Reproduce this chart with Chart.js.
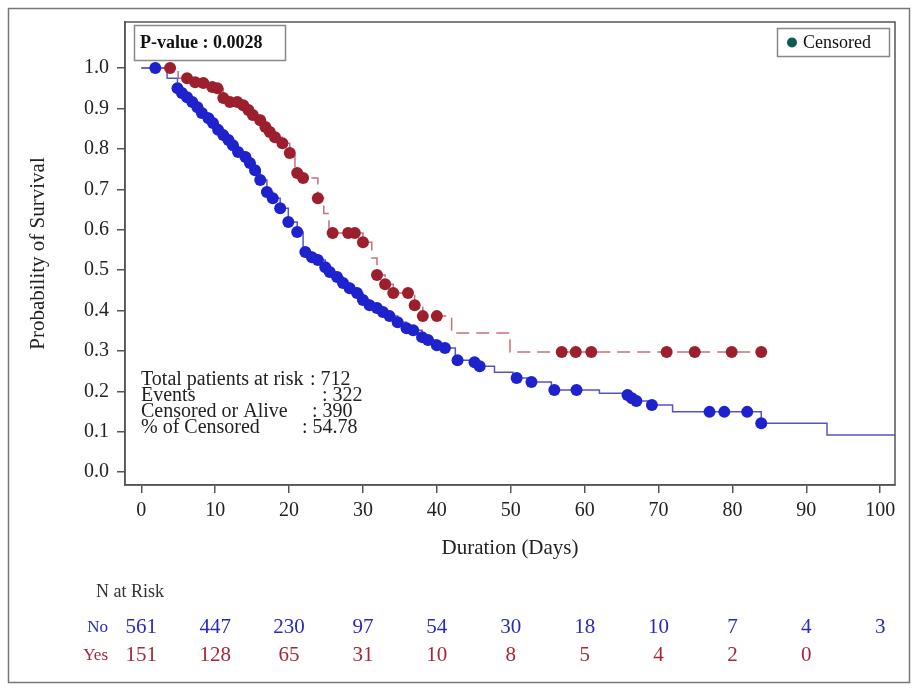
<!DOCTYPE html>
<html>
<head>
<meta charset="utf-8">
<script src="https://cdn.jsdelivr.net/npm/chart.js@4"></script>
<style>
  body { margin: 0; background: #fff; }
  canvas { display: block; }
</style>
</head>
<body>
<canvas id="kmChart" width="916" height="690"></canvas>
<script>
// Kaplan-Meier step nodes (days, survival)
const noCurveDays = [0, 3.5, 4.9, 5.5, 6.2, 6.9, 7.6, 8.2, 9.1, 9.7, 10.4, 11.1, 11.8, 12.4, 13.1, 14.1, 14.7, 15.4, 16.1, 17.0, 17.8, 18.8, 19.9, 21.1, 21.9, 23.1, 23.9, 24.9, 25.5, 26.5, 27.3, 28.2, 29.2, 30.0, 30.9, 31.9, 32.7, 33.6, 34.7, 35.9, 36.8, 38.0, 38.8, 40.0, 41.1, 42.5, 45.1, 45.8, 47.8, 50.3, 52.8, 55.5, 62.0, 65.8, 66.4, 67.0, 69.1, 71.9, 83.9, 92.8, 102];
const noCurveSurv = [1.0, 0.975, 0.950, 0.938, 0.928, 0.916, 0.903, 0.889, 0.876, 0.864, 0.847, 0.834, 0.822, 0.809, 0.792, 0.780, 0.765, 0.747, 0.723, 0.693, 0.678, 0.653, 0.619, 0.594, 0.545, 0.532, 0.525, 0.507, 0.495, 0.483, 0.468, 0.455, 0.443, 0.426, 0.413, 0.406, 0.396, 0.386, 0.371, 0.356, 0.351, 0.334, 0.327, 0.314, 0.307, 0.277, 0.272, 0.262, 0.247, 0.233, 0.223, 0.203, 0.195, 0.191, 0.183, 0.176, 0.166, 0.149, 0.121, 0.092, 0.092];

const yesCurveDays = [0, 5.0, 7.3, 8.4, 9.6, 10.3, 11.1, 12.0, 13.8, 14.5, 15.1, 16.1, 16.8, 17.4, 18.1, 19.1, 20.1, 20.8, 21.9, 23.9, 24.7, 25.4, 30.0, 31.2, 31.9, 33.0, 34.1, 37.0, 38.1, 42.0, 49.9, 83.9];
const yesCurveSurv = [1.0, 0.975, 0.965, 0.963, 0.953, 0.950, 0.926, 0.916, 0.908, 0.896, 0.884, 0.871, 0.854, 0.842, 0.829, 0.814, 0.790, 0.740, 0.728, 0.678, 0.640, 0.592, 0.569, 0.530, 0.488, 0.465, 0.443, 0.413, 0.386, 0.344, 0.297, 0.297];

// censored observations
const noCensDays = [1.9, 4.9, 5.5, 6.2, 6.9, 7.6, 8.2, 9.1, 9.7, 10.4, 11.1, 11.8, 12.4, 13.1, 14.1, 14.7, 15.4, 16.1, 17.0, 17.8, 18.8, 19.9, 21.1, 22.2, 23.1, 23.9, 24.9, 25.5, 26.5, 27.3, 28.2, 29.2, 30.0, 30.9, 31.9, 32.7, 33.6, 34.7, 35.9, 36.8, 38.0, 38.8, 40.0, 41.1, 42.8, 45.1, 45.8, 50.8, 52.8, 55.9, 58.9, 65.8, 66.4, 67.0, 69.1, 76.9, 78.9, 82.0, 83.9];
const noCensSurv = [1.0, 0.950, 0.938, 0.928, 0.916, 0.903, 0.889, 0.876, 0.864, 0.847, 0.834, 0.822, 0.809, 0.792, 0.780, 0.765, 0.747, 0.723, 0.693, 0.678, 0.653, 0.619, 0.594, 0.545, 0.532, 0.525, 0.507, 0.495, 0.483, 0.468, 0.455, 0.443, 0.426, 0.413, 0.406, 0.396, 0.386, 0.371, 0.356, 0.351, 0.334, 0.327, 0.314, 0.307, 0.277, 0.272, 0.262, 0.233, 0.223, 0.203, 0.203, 0.191, 0.183, 0.176, 0.166, 0.149, 0.149, 0.149, 0.121];

const yesCensDays = [3.9, 6.2, 7.3, 8.4, 9.6, 10.3, 11.1, 12.0, 13.0, 13.8, 14.5, 15.1, 16.1, 16.8, 17.4, 18.1, 19.1, 20.1, 21.1, 21.9, 23.9, 25.9, 28.0, 28.9, 30.0, 31.9, 33.0, 34.1, 36.1, 37.0, 38.1, 40.0, 56.9, 58.8, 60.9, 71.1, 74.9, 79.9, 83.9];
const yesCensSurv = [1.0, 0.975, 0.965, 0.963, 0.953, 0.950, 0.926, 0.916, 0.916, 0.908, 0.896, 0.884, 0.871, 0.854, 0.842, 0.829, 0.814, 0.790, 0.740, 0.728, 0.678, 0.592, 0.592, 0.592, 0.569, 0.488, 0.465, 0.443, 0.443, 0.413, 0.386, 0.386, 0.297, 0.297, 0.297, 0.297, 0.297, 0.297, 0.297];

// axis ticks
const xTicks = [0, 10, 20, 30, 40, 50, 60, 70, 80, 90, 100];
const yTicks = [0.0, 0.1, 0.2, 0.3, 0.4, 0.5, 0.6, 0.7, 0.8, 0.9, 1.0];

// number at risk table
const riskDays = [0, 10, 20, 30, 40, 50, 60, 70, 80, 90, 100];
const noAtRisk = [561, 447, 230, 97, 54, 30, 18, 10, 7, 4, 3];
const yesAtRisk = [151, 128, 65, 31, 10, 8, 5, 4, 2, 0];

// summary box
const summaryLabels = ['Total patients at risk', 'Events', 'Censored or Alive', '% of Censored'];
const summaryValues = ['712', '322', '390', '54.78'];
const pValue = '0.0028';

const serif = '"Liberation Serif", "Times New Roman", serif';
const noColor = '#2a2ab8';
const yesColor = '#a3283a';

const toPoints = (xs, ys) => xs.map((x, i) => ({ x: x, y: ys[i] }));

const decorations = {
    id: 'decorations',
    afterDraw(chart) {
        const ctx = chart.ctx;
        const area = chart.chartArea;
        const xs = chart.scales.x;
        ctx.save();

        // frame round the plot
        ctx.strokeStyle = '#555';
        ctx.lineWidth = 1.5;
        ctx.strokeRect(area.left, area.top, area.right - area.left, area.bottom - area.top);

        // outer border
        ctx.strokeStyle = '#777';
        ctx.strokeRect(8.5, 8.5, 901, 674);

        // p-value box
        ctx.strokeStyle = '#888';
        ctx.lineWidth = 1.5;
        ctx.strokeRect(134.5, 25.5, 151, 35);
        ctx.fillStyle = '#111';
        ctx.font = 'bold 18px ' + serif;
        ctx.textBaseline = 'middle';
        ctx.textAlign = 'left';
        ctx.fillText('P-value : ' + pValue, 140, 43);

        // legend
        ctx.strokeRect(777.5, 28.5, 112, 28);
        ctx.beginPath();
        ctx.arc(792, 42.5, 5, 0, Math.PI * 2);
        ctx.fillStyle = '#0b5e4f';
        ctx.fill();
        ctx.fillStyle = '#111';
        ctx.font = '18px ' + serif;
        ctx.fillText('Censored', 803, 43);

        // summary
        const colonX = [310, 322, 312, 302];
        ctx.font = '20px ' + serif;
        ctx.fillStyle = '#222';
        summaryLabels.forEach((lab, i) => {
            const y = 380 + i * 16;
            ctx.fillText(lab, 141, y);
            ctx.fillText(': ' + summaryValues[i], colonX[i], y);
        });

        // number at risk
        ctx.fillStyle = '#333';
        ctx.font = '18px ' + serif;
        ctx.fillText('N at Risk', 96, 592);
        ctx.font = '17px ' + serif;
        ctx.textAlign = 'right';
        ctx.fillStyle = noColor;
        ctx.fillText('No', 108, 628);
        ctx.fillStyle = yesColor;
        ctx.fillText('Yes', 108, 656);
        ctx.font = '21px ' + serif;
        ctx.textAlign = 'center';
        riskDays.forEach((d, i) => {
            const x = xs.getPixelForValue(d);
            ctx.fillStyle = noColor;
            ctx.fillText(String(noAtRisk[i]), x, 627);
            if (i < yesAtRisk.length) {
                ctx.fillStyle = yesColor;
                ctx.fillText(String(yesAtRisk[i]), x, 655);
            }
        });
        ctx.restore();
    }
};

const tickFont = { family: serif, size: 20 };
const titleFont = { family: serif, size: 21 };

new Chart(document.getElementById('kmChart'), {
    type: 'line',
    data: {
        datasets: [
            {
                type: 'scatter',
                label: 'No censored',
                data: toPoints(noCensDays, noCensSurv),
                pointRadius: 6,
                pointBackgroundColor: '#1e22cc',
                pointBorderWidth: 0,
                showLine: false
            },
            {
                type: 'scatter',
                label: 'Yes censored',
                data: toPoints(yesCensDays, yesCensSurv),
                pointRadius: 6,
                pointBackgroundColor: '#9c1f2e',
                pointBorderWidth: 0,
                showLine: false
            },
            {
                label: 'No',
                data: toPoints(noCurveDays, noCurveSurv),
                stepped: true,
                borderColor: '#5555c2',
                borderWidth: 1.5,
                pointRadius: 0,
                fill: false
            },
            {
                label: 'Yes',
                data: toPoints(yesCurveDays, yesCurveSurv),
                stepped: true,
                borderColor: '#c8707c',
                borderDash: [13, 7],
                borderWidth: 1.5,
                pointRadius: 0,
                fill: false
            }
        ]
    },
    options: {
        responsive: false,
        animation: false,
        devicePixelRatio: 1,
        layout: { padding: { left: 22, top: 22, right: 21, bottom: 125 } },
        plugins: {
            legend: { display: false },
            tooltip: { enabled: false }
        },
        scales: {
            x: {
                type: 'linear',
                min: -2.2,
                max: 102,
                afterBuildTicks: s => { s.ticks = xTicks.map(v => ({ value: v })); },
                afterFit: s => { s.height = 80; },
                grid: { drawOnChartArea: false, tickLength: 8, color: '#555', lineWidth: 1.5 },
                border: { color: '#555', width: 1.5 },
                ticks: { font: tickFont, color: '#222', padding: 6, maxRotation: 0 },
                title: { display: true, text: 'Duration (Days)', font: titleFont, color: '#222', padding: 4 }
            },
            y: {
                min: -0.032,
                max: 1.114,
                afterBuildTicks: s => { s.ticks = yTicks.map(v => ({ value: v })); },
                afterFit: s => { s.width = 103; },
                grid: { drawOnChartArea: false, tickLength: 8, color: '#555', lineWidth: 1.5 },
                border: { color: '#555', width: 1.5 },
                ticks: { font: tickFont, color: '#222', padding: 8, callback: v => v.toFixed(1) },
                title: { display: true, text: 'Probability of Survival', font: titleFont, color: '#222', padding: 4 }
            }
        }
    },
    plugins: [decorations]
});
</script>
</body>
</html>
